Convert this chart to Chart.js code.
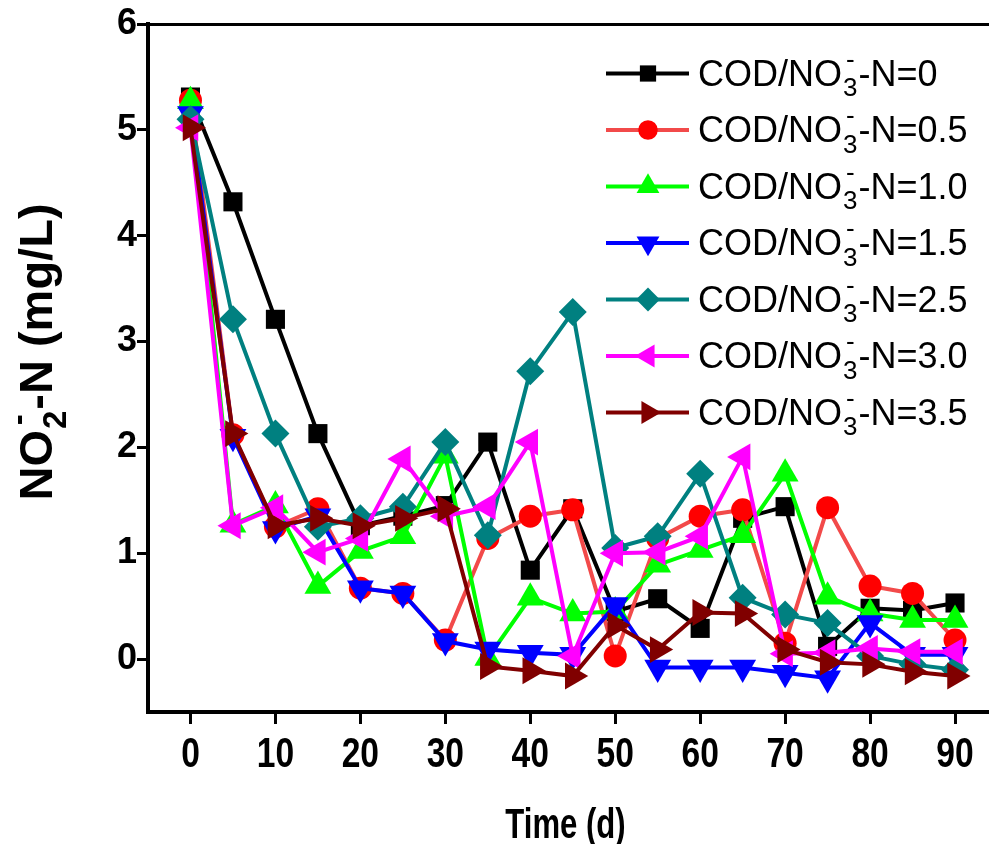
<!DOCTYPE html>
<html><head><meta charset="utf-8">
<script src="https://cdn.jsdelivr.net/npm/chart.js@4/dist/chart.umd.min.js"></script>
<style>html,body{margin:0;padding:0;background:#fff;overflow:hidden}#wrap{width:989px;height:844px;position:relative;background:#fff}</style>
</head><body><div id="wrap"><canvas id="c" width="989" height="844"></canvas></div>
<script>
// ---- data ----
const days = [0,5,10,15,20,25,30,35,40,45,50,55,60,65,70,75,80,85,90];
const xTickValues = [0,10,20,30,40,50,60,70,80,90];
const yTickValues = [0,1,2,3,4,5,6];
const ratioLabels = ['0','0.5','1.0','1.5','2.5','3.0','3.5'];
const cod00 = [5.31,4.32,3.21,2.13,1.26,1.35,1.45,2.05,0.84,1.42,0.45,0.57,0.29,1.33,1.44,0.12,0.48,0.46,0.53];
const cod05 = [5.28,2.12,1.25,1.42,0.67,0.62,0.18,1.14,1.35,1.41,0.03,1.14,1.35,1.41,0.15,1.43,0.69,0.62,0.18];
const cod10 = [5.27,1.27,1.45,0.69,1.02,1.16,1.92,0.01,0.58,0.43,0.45,0.89,1.03,1.17,1.75,0.59,0.43,0.37,0.37];
const cod15 = [5.15,2.10,1.23,1.35,0.67,0.62,0.17,0.09,0.06,0.04,0.51,-0.08,-0.08,-0.08,-0.13,-0.18,0.34,0.04,0.04];
const cod25 = [5.10,3.21,2.13,1.25,1.33,1.44,2.05,1.17,2.72,3.28,1.05,1.16,1.75,0.58,0.42,0.34,0.03,-0.05,-0.10];
const cod30 = [5.02,1.26,1.43,1.01,1.14,1.89,1.35,1.44,2.05,0.03,1.00,1.01,1.16,1.91,0.05,0.06,0.10,0.07,0.07];
const cod35 = [5.02,2.13,1.26,1.33,1.26,1.33,1.42,-0.07,-0.11,-0.16,0.32,0.09,0.44,0.43,0.09,-0.03,-0.05,-0.12,-0.16];

const seriesValues = [cod00,cod05,cod10,cod15,cod25,cod30,cod35];
const lineColors  = ['#000000','#F24A4A','#00FF00','#0000FF','#008080','#FF00FF','#800000'];
const pointColors = ['#000000','#FF0000','#00FF00','#0000FF','#008080','#FF00FF','#800000'];
const pStyles = ['rect','circle','triangle','triangle','rectRot','triangle','triangle'];
const pRot    = [0,0,0,180,0,-90,90];
const pRad    = [13.5,11.5,15.5,15.5,14,15.5,15.5];

const datasets = seriesValues.map((vals,i)=>({
  label: 'COD/NO3--N=' + ratioLabels[i],
  data: days.map((d,j)=>({x:d,y:vals[j]})),
  borderColor: lineColors[i],
  backgroundColor: pointColors[i],
  pointBackgroundColor: pointColors[i],
  pointBorderColor: pointColors[i],
  pointBorderWidth: 0,
  borderWidth: 4,
  pointStyle: pStyles[i],
  rotation: pRot[i],
  pointRadius: pRad[i],
  pointHoverRadius: pRad[i],
  tension: 0,
  clip: false,
  order: 6 - i
}));

const FAM = '"Liberation Sans", Arial, sans-serif';

function drawRich(ctx, x, y, parts, size, bold, subScale) {
  const w = bold ? 'bold ' : '';
  ctx.textBaseline = 'alphabetic';
  ctx.textAlign = 'left';
  let cx = x;
  for (const p of parts) {
    if (p.t !== undefined) {
      ctx.font = w + size + 'px ' + FAM;
      ctx.fillText(p.t, cx, y);
      cx += ctx.measureText(p.t).width;
    } else {
      const s = Math.round(size*subScale);
      ctx.font = w + s + 'px ' + FAM;
      const w1 = ctx.measureText(p.sub).width;
      const w2 = ctx.measureText(p.sup).width;
      ctx.fillText(p.sub, cx + 1, y + size*0.3);
      ctx.fillText(p.sup, cx + 1 + (w1 - w2)/2, y - size*0.5);
      cx += Math.max(w1, w2) + 2;
    }
  }
  return cx - x;
}
function measureRich(ctx, parts, size, bold, subScale) {
  const w = bold ? 'bold ' : '';
  let tot = 0;
  for (const p of parts) {
    if (p.t !== undefined) { ctx.font = w + size + 'px ' + FAM; tot += ctx.measureText(p.t).width; }
    else { ctx.font = w + Math.round(size*subScale) + 'px ' + FAM;
      tot += Math.max(ctx.measureText(p.sub).width, ctx.measureText(p.sup).width) + 2; }
  }
  return tot;
}

const decor = {
  id: 'decor',
  afterDraw(chart) {
    const ctx = chart.ctx, a = chart.chartArea, xs = chart.scales.x;
    ctx.save();
    // top frame line
    ctx.strokeStyle = '#000'; ctx.lineWidth = 3;
    ctx.beginPath(); ctx.moveTo(a.left - 2, a.top + 0.5); ctx.lineTo(989, a.top + 0.5); ctx.stroke();
    ctx.fillStyle = '#000';
    // x tick labels (condensed bold)
    ctx.textAlign = 'center'; ctx.textBaseline = 'alphabetic';
    ctx.font = 'bold 42px ' + FAM;
    xTickValues.forEach(v => {
      const px = xs.getPixelForValue(v);
      ctx.save(); ctx.translate(px, 767); ctx.scale(0.8, 1);
      ctx.fillText(String(v), 0, 0); ctx.restore();
    });
    // x title
    ctx.save(); ctx.translate((a.left + a.right)/2 - 3, 838); ctx.scale(0.74, 1);
    ctx.font = 'bold 42px ' + FAM; ctx.fillText('Time (d)', 0, 0); ctx.restore();
    // y title
    ctx.save();
    ctx.translate(52, 352);
    ctx.rotate(-Math.PI/2);
    const yParts = [{t:'NO'},{sub:'2',sup:'-'},{t:'-N (mg/L)'}];
    const wTot = measureRich(ctx, yParts, 47, true, 0.7);
    drawRich(ctx, -wTot/2, 0, yParts, 47, true, 0.7);
    ctx.restore();
    // legend
    const lx0 = 606, lx1 = 689, mx = 648, tx = 698;
    chart.data.datasets.forEach((ds,i)=>{
      const y = 73.5 + i*56.5;
      ctx.strokeStyle = ds.borderColor; ctx.lineWidth = 4;
      ctx.beginPath(); ctx.moveTo(lx0, y); ctx.lineTo(lx1, y); ctx.stroke();
      ctx.fillStyle = ds.pointBackgroundColor; ctx.strokeStyle = ds.pointBorderColor;
      ctx.lineWidth = 0.01;
      Chart.helpers.drawPoint(ctx, {pointStyle: ds.pointStyle, rotation: ds.rotation, radius: ds.pointRadius*0.85, borderWidth: 0}, mx, y);
      ctx.fillStyle = '#000';
      drawRich(ctx, tx, y + 12, [{t:'COD/NO'},{sub:'3',sup:'-'},{t:'-N=' + ratioLabels[i]}], 36, false, 0.72);
    });
    ctx.restore();
  }
};

new Chart(document.getElementById('c'), {
  type: 'line',
  data: { datasets },
  plugins: [decor],
  options: {
    responsive: false,
    animation: false,
    events: [],
    layout: { autoPadding: false, padding: { left: 0, right: 0, top: 24, bottom: 0 } },
    plugins: { legend: { display: false }, tooltip: { enabled: false } },
    scales: {
      x: {
        type: 'linear', min: -5, max: 94,
        afterBuildTicks: s => { s.ticks = xTickValues.map(v=>({value:v})); },
        afterFit: s => { s.height = 132; s.paddingLeft = 0; s.paddingRight = 0; },
        grid: { drawOnChartArea: false, drawTicks: true, tickLength: 12, tickWidth: 3, tickColor: '#000' },
        border: { display: true, color: '#000', width: 4 },
        ticks: { display: false }
      },
      y: {
        type: 'linear', min: -0.5, max: 6,
        afterBuildTicks: s => { s.ticks = yTickValues.map(v=>({value:v})); },
        afterFit: s => { s.width = 148; },
        grid: { drawOnChartArea: false, drawTicks: true, tickLength: 11, tickWidth: 3, tickColor: '#000' },
        border: { display: true, color: '#000', width: 4 },
        ticks: { color: '#000', padding: 0,
          font: { family: FAM, size: 36, weight: 'bold' } }
      }
    }
  }
});
</script></body></html>
